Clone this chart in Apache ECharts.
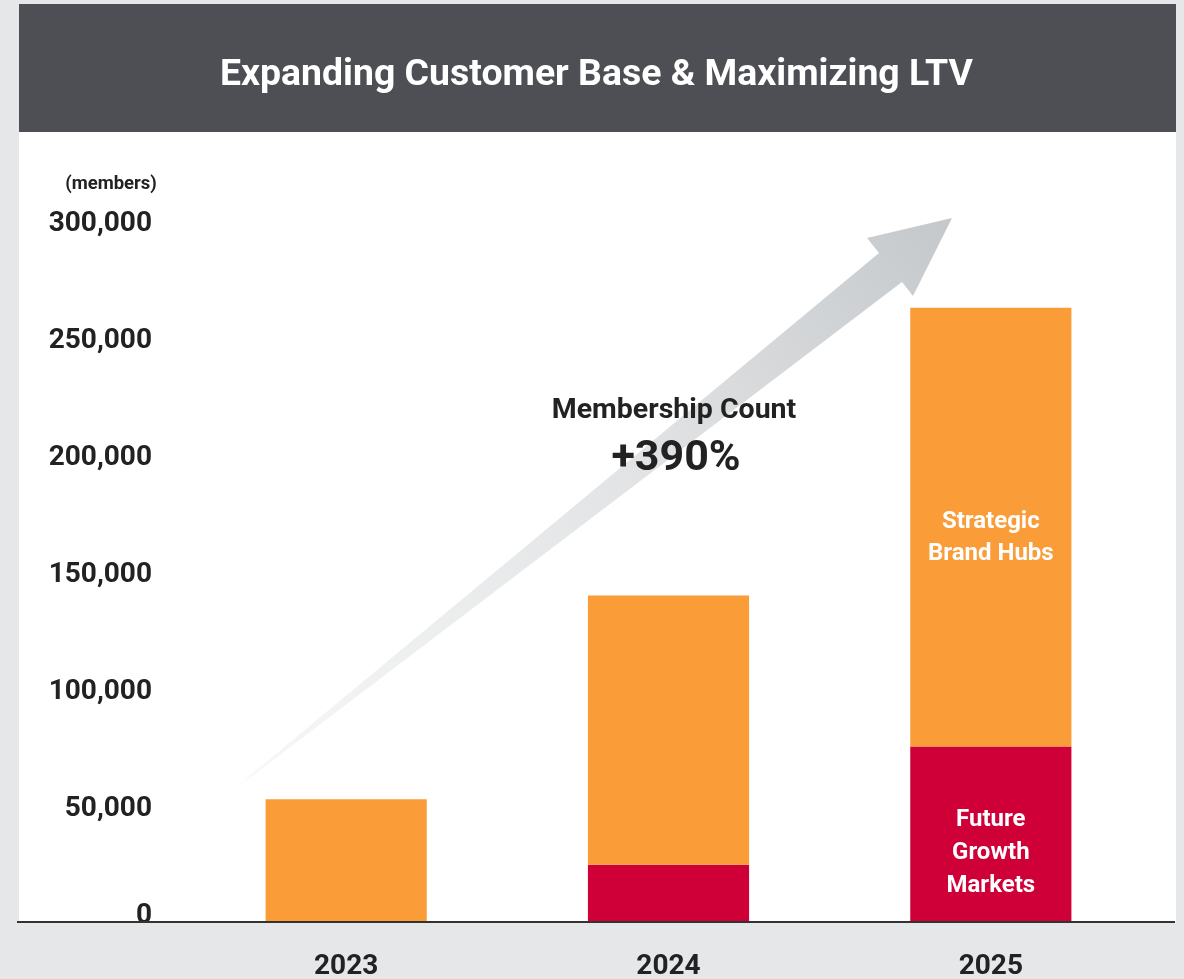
<!DOCTYPE html>
<html>
<head>
<meta charset="utf-8">
<script src="https://cdn.jsdelivr.net/npm/echarts@6/dist/echarts.min.js"></script>
<style>
html,body{margin:0;padding:0;background:#e6e7e9;}
#chart{width:1184px;height:979px;}
</style>
</head>
<body>
<div id="chart"></div>
<script>
const years = ['2023', '2024', '2025'];
const futureGrowthMarkets = [0, 24500, 75000];
const strategicBrandHubs = [52500, 115000, 187500];
const yMin = 0, yMax = 300000, yStep = 50000;
const titleText = 'Expanding Customer Base & Maximizing LTV';
const unitText = '(members)';
const calloutTitle = 'Membership Count';
const calloutValue = '+390%';

const FONT = 'Roboto';
const chart = echarts.init(document.getElementById('chart'));

const strategicData = strategicBrandHubs.map((v, i) => {
  if (i === 2) {
    return { value: v, label: { show: true, position: 'inside', offset: [0, 11],
      formatter: 'Strategic\nBrand Hubs', color: '#fff', fontFamily: FONT, fontWeight: 'bold',
      fontSize: 24, lineHeight: 32 } };
  }
  return v;
});
const futureData = futureGrowthMarkets.map((v, i) => {
  if (i === 2) {
    return { value: v, label: { show: true, position: 'inside', offset: [0, 19],
      formatter: 'Future\nGrowth\nMarkets', color: '#fff', fontFamily: FONT, fontWeight: 'bold',
      fontSize: 24, lineHeight: 33 } };
  }
  return v;
});

const labelStyle = { color: '#222', fontFamily: FONT, fontWeight: 'bold', fontSize: 28 };

const option = {
  backgroundColor: '#e6e7e9',
  animation: false,
  title: {
    text: titleText, left: 215, top: 52,
    textStyle: { color: '#fff', fontFamily: FONT, fontWeight: 'bold', fontSize: 37.4 }
  },
  grid: { left: 185, right: 32, top: 220, bottom: 57, containLabel: false, outerBoundsMode: 'none' },
  xAxis: {
    type: 'category', data: years,
    axisLine: { show: false }, axisTick: { show: false },
    axisLabel: Object.assign({ margin: 31 }, labelStyle)
  },
  yAxis: {
    type: 'value', min: yMin, max: yMax, interval: yStep,
    splitLine: { show: false }, axisLine: { show: false }, axisTick: { show: false },
    axisLabel: Object.assign({}, labelStyle, {
      margin: 33,
      formatter: v => v === 0 ? '{z|0}' : '{n|' + v.toLocaleString('en-US') + '}',
      rich: {
        n: Object.assign({ padding: [8, 0, 0, 0] }, labelStyle),
        z: Object.assign({ padding: [0, 0, 12, 0] }, labelStyle)
      }
    })
  },
  series: [
    { name: 'Future Growth Markets', type: 'bar', stack: 'total', barWidth: '50%',
      itemStyle: { color: '#cf0038' }, data: futureData, z: 3 },
    { name: 'Strategic Brand Hubs', type: 'bar', stack: 'total', barWidth: '50%',
      itemStyle: { color: '#fa9c38' }, data: strategicData, z: 3 }
  ],
  graphic: [
    { type: 'rect', z: -10, shape: { x: 19, y: 132, width: 1157, height: 790 }, style: { fill: '#ffffff' } },
    { type: 'rect', z: -9, shape: { x: 19, y: 4, width: 1157, height: 128 }, style: { fill: '#4d4f54' } },
    { type: 'polygon', z: -5,
      shape: { points: [[218, 802], [879, 253], [867, 238], [952, 218], [913, 296], [902, 282]] },
      style: { fill: { type: 'linear', x: 218, y: 802, x2: 952, y2: 218, global: true,
        colorStops: [{ offset: 0, color: 'rgba(255,255,255,0)' }, { offset: 0.05, color: '#f7f7f7' },
                     { offset: 0.6, color: '#e0e2e3' }, { offset: 1, color: '#c5c8cb' }] } } },
    { type: 'line', z: 10, shape: { x1: 17, y1: 922, x2: 1175, y2: 922 }, style: { stroke: '#333', lineWidth: 2 } },
    { type: 'text', z: 10, style: { text: unitText, x: 111, y: 184, align: 'center', verticalAlign: 'middle',
      fill: '#222', fontFamily: FONT, fontWeight: 'bold', fontSize: 18.5 } },
    { type: 'text', z: 10, style: { text: calloutTitle, x: 674, y: 411, align: 'center', verticalAlign: 'middle',
      fill: '#222', fontFamily: FONT, fontWeight: 'bold', fontSize: 28.5 } },
    { type: 'text', z: 10, style: { text: calloutValue, x: 676, y: 459, align: 'center', verticalAlign: 'middle',
      fill: '#222', fontFamily: FONT, fontWeight: 'bold', fontSize: 43 } }
  ]
};
chart.setOption(option);
</script>
</body>
</html>
